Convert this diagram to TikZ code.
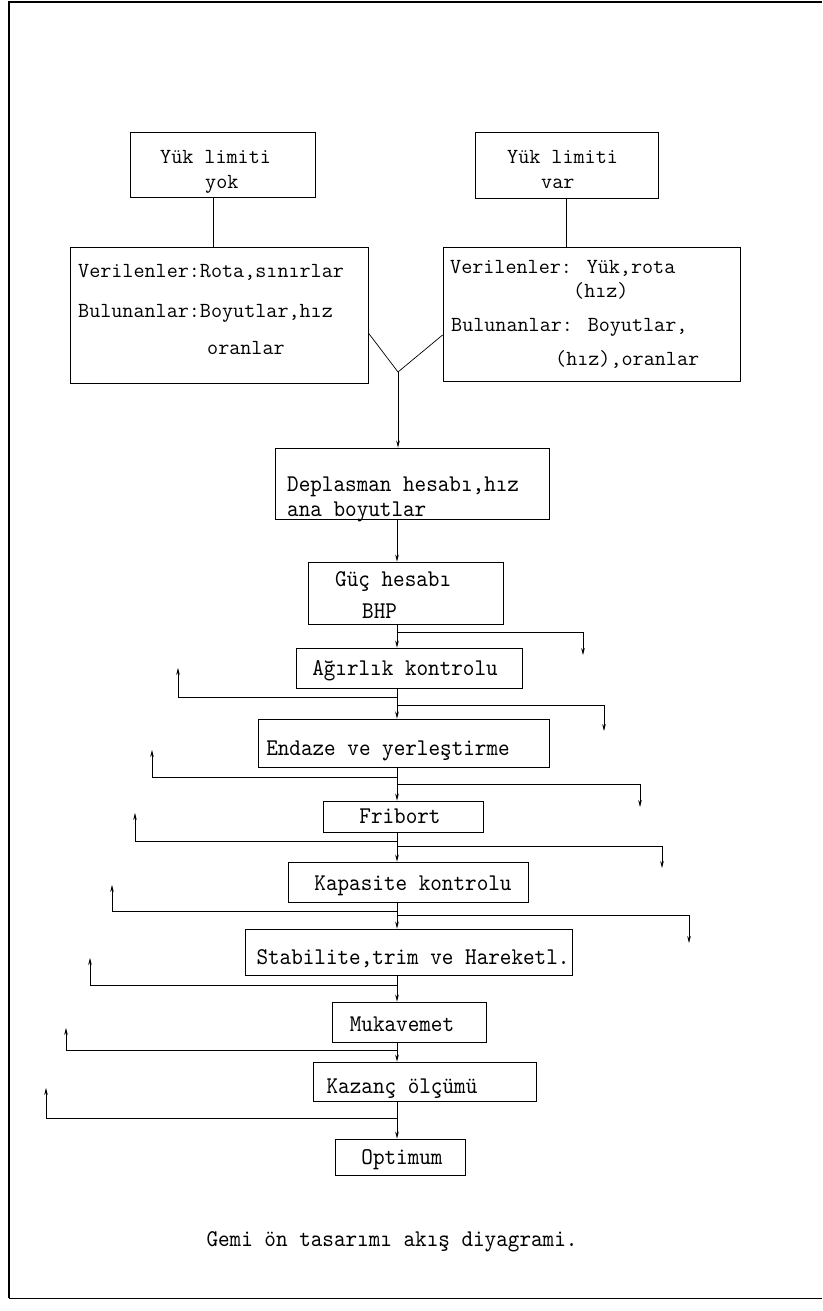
\documentclass[tikz,border=0pt]{standalone}
\usepackage{fontspec}
\newfontfamily\twc[FakeStretch=0.92]{lmmono10-regular.otf}
\usetikzlibrary{arrows.meta,fit}
\begin{document}
\begin{tikzpicture}[x=1pt,y=-1pt,
  box/.style={draw, line width=0.8pt, inner sep=0pt},
  tt/.style={font=\ttfamily\fontsize{21.5}{21.5}\selectfont, inner sep=0pt},
  ct/.style={font=\twc\fontsize{24}{24}\selectfont, inner sep=0pt},
  ln/.style={line width=0.7pt},
  arr/.style={ln, -{Stealth[length=7pt,width=3.6pt]}}]
\useasboundingbox (0,0) rectangle (822,1311);
% frame
\draw[line width=1.6pt] (822,2) -- (9,2) -- (9,1298);
\draw[line width=0.6pt] (9,1298) -- (822,1298);
% top boxes
\node[box, fit={(130,132) (315,197)}] (yok) {};
\node[tt, anchor=base west] (yokt1) at (160,163) {Yük limiti};
\node[tt, anchor=base west] (yokt2) at (205,188) {yok};
\node[box, fit={(475,132) (658,198)}] (var) {};
\node[tt, anchor=base west] (vart1) at (507,163) {Yük limiti};
\node[tt, anchor=base west] (vart2) at (541,188) {var};
\node[box, fit={(70,247) (368,383)}] (lb) {};
\node[tt, anchor=base west] (lbt1) at (78,277) {Verilenler:Rota,sınırlar};
\node[tt, anchor=base west] (lbt2) at (78,317) {Bulunanlar:Boyutlar,hız};
\node[tt, anchor=base west] (lbt3) at (207,354) {oranlar};
\node[box, fit={(443,247) (740,381)}] (rb) {};
\node[tt, anchor=base west] (rbt1) at (450,273) {Verilenler: Yük,rota};
\node[tt, anchor=base west] (rbt2) at (573,297) {(hız)};
\node[tt, anchor=base west] (rbt3) at (451,331) {Bulunanlar: Boyutlar,};
\node[tt, anchor=base west] (rbt4) at (555,365) {(hız),oranlar};
% main column boxes
\node[box, fit={(275,448) (549,519)}] (dep) {};
\node[ct, anchor=base west] (dept1) at (287,491) {Deplasman hesabı,hız};
\node[ct, anchor=base west] (dept2) at (287,516) {ana boyutlar};
\node[box, fit={(308,562) (503,624)}] (guc) {};
\node[ct, anchor=base west] (guct1) at (335,586) {Güç hesabı};
\node[ct, anchor=base west] (guct2) at (362,618) {BHP};
\node[box, fit={(296,648) (522,688)}] (agr) {};
\node[ct, anchor=base] (agrt) at (405,675) {Ağırlık kontrolu};
\node[box, fit={(258,719) (549,767)}] (end) {};
\node[ct, anchor=base] (endt) at (388,755) {Endaze ve yerleştirme};
\node[box, fit={(323,801) (483,832)}] (fri) {};
\node[ct, anchor=base] (frit) at (400,823) {Fribort};
\node[box, fit={(288,862) (528,902)}] (kap) {};
\node[ct, anchor=base] (kapt) at (413,890) {Kapasite kontrolu};
\node[box, fit={(245,929) (572,975)}] (sta) {};
\node[ct, anchor=base] (stat) at (413,964) {Stabilite,trim ve Hareketl.};
\node[box, fit={(332,1002) (486,1042)}] (muk) {};
\node[ct, anchor=base] (mukt) at (402,1031) {Mukavemet};
\node[box, fit={(313,1062) (536,1101)}] (kaz) {};
\node[ct, anchor=base] (kazt) at (402,1093) {Kazanç ölçümü};
\node[box, fit={(335,1139) (465,1175)}] (opt) {};
\node[ct, anchor=base] (optt) at (402,1164) {Optimum};
\node[ct, anchor=base] (cap) at (392,1246) {Gemi ön tasarımı akış diyagrami.};
% top connectors
\coordinate (yv) at (213,0);
\coordinate (col) at (397,0);
\coordinate (J) at (398,372);
\draw[ln] (yok.south -| yv) -- (lb.north -| yv);
\draw[ln] (var.south) -- (var.south |- rb.north);
\draw[ln] ([yshift=-18pt]lb.east) -- (J) -- ([yshift=-21pt]rb.west);
\draw[arr] (J) -- (J |- dep.north);
% main column
\draw[arr] (dep.south -| col) -- (guc.north -| col);
\draw[arr] (guc.south -| col) -- (agr.north -| col);
\draw[arr] (agr.south -| col) -- (end.north -| col);
\draw[arr] (end.south -| col) -- (fri.north -| col);
\draw[arr] (fri.south -| col) -- (kap.north -| col);
\draw[arr] (kap.south -| col) -- (sta.north -| col);
\draw[arr] (sta.south -| col) -- (muk.north -| col);
\draw[arr] (muk.south -| col) -- (kaz.north -| col);
\draw[arr] (kaz.south -| col) -- (opt.north -| col);
% right branches (downward)
\foreach \i/\y/\x/\e in {1/632/583/655, 2/705/604/731, 3/784/640/807, 4/846/662/868, 5/915/689/943}{
  \coordinate (rs\i) at (397,\y);
  \coordinate (re\i) at (\x,\e);
  \draw[arr] (rs\i) -| (re\i);
}
% left feedbacks (upward)
\foreach \i/\y/\x/\e in {1/697/178/668, 2/777/152/750, 3/841/135/813, 4/911/112/885, 5/985/90/958, 6/1050/66/1028, 7/1118/46/1088}{
  \coordinate (ls\i) at (397,\y);
  \coordinate (le\i) at (\x,\e);
  \draw[arr] (ls\i) -| (le\i);
}
\end{tikzpicture}
\end{document}
